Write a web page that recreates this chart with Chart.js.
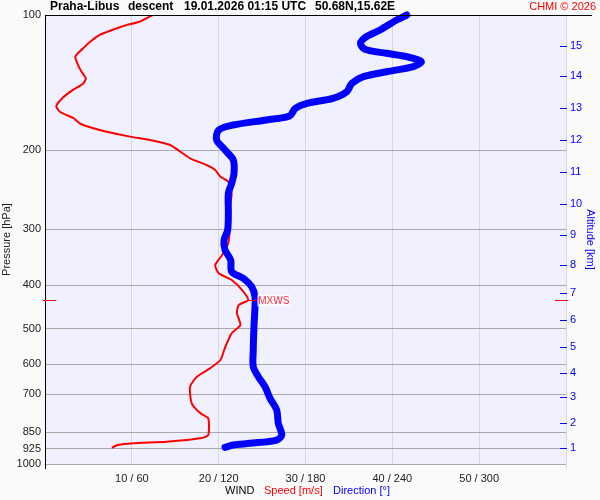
<!DOCTYPE html>
<html lang="en">
<head>
    <meta charset="UTF-8">
    <title>Praha-Libus descent - wind profile</title>
    <script src="https://cdn.jsdelivr.net/npm/chart.js@4"></script>
    <style>
        body { margin: 0; background: #fafafa; }
        #wrap { width: 600px; height: 500px; }
    </style>
</head>
<body>
<div id="wrap"><canvas id="windChart" width="600" height="500"></canvas></div>

<script>
    const FONT = '"Liberation Sans", Arial, sans-serif';

    // wind speed profile (m/s) vs pressure (hPa)
    const speedP = [100, 103.5, 105.3, 108.4, 110.8, 114.7, 118.6, 123.8, 129.2, 133.8, 138.4, 142.0, 147.4, 152.5, 159.5,
        164.2, 169.8, 174.3, 177.9, 182.0, 186.6, 189.8, 194.8, 201.6, 208.5, 215.8, 221.4, 229.2, 235.1, 249.5,
        267.3, 296.2, 322.5, 342.3, 360.4, 376.1, 389.2, 409.8, 431.3, 442.6, 461.7, 490.2, 511.6, 552.6, 586.7,
        612.3, 639.2, 672.7, 732.6, 771.2, 791.2, 861.9, 876.7, 892.0, 899.4, 907.3, 919.9];
    const speed = [12.4, 10.9, 9.4, 7.5, 6.3, 5.2, 4.4, 3.5, 3.8, 4.2, 4.7, 4.4, 3.1, 2.1, 1.3,
        1.7, 3.3, 4.0, 5.2, 7.1, 9.8, 12.1, 14.4, 15.6, 16.7, 18.6, 19.6, 20.2, 21.1, 21.5,
        21.3, 21.3, 21.1, 20.4, 19.6, 20.0, 21.5, 22.7, 23.4, 22.3, 22.1, 22.5, 21.5, 20.7, 20.2,
        19.0, 17.5, 16.7, 16.9, 17.9, 18.8, 18.8, 17.9, 14.0, 10.2, 8.4, 7.7];

    // wind direction profile (deg) vs pressure (hPa)
    const dirP = [100, 102.6, 108.0, 111.8, 115.6, 119.2, 121.7, 123.8, 127.0, 130.3, 133.8, 137.2, 142.0, 148.2, 153.3,
        157.3, 161.4, 167.9, 171.3, 175.8, 180.4, 189.8, 199.8, 210.3, 225.2, 237.1, 249.5, 276.5, 301.2, 317.1,
        333.7, 351.3, 373.0, 385.9, 402.9, 424.1, 446.5, 494.5, 557.5, 607.2, 639.2, 672.7, 714.0, 758.2, 811.8,
        861.9, 884.3, 899.4, 907.3, 918.0];
    const direction = [250, 243, 231.5, 222, 218, 221, 236, 250, 260, 254.5, 236, 220, 212, 208.5, 199,
        181, 173, 169, 153, 130, 120, 118.6, 124.4, 130.1, 130.6, 129, 126.7, 126.7, 126.2, 123.7,
        124.4, 128.3, 129, 137, 142.8, 145.1, 145.1, 144.4, 143.9, 143.9, 147.4, 152, 155.5, 160.1, 161.2,
        163.6, 160.1, 141.7, 130.1, 124.4];

    // axes
    const pressureTicks = [100, 200, 300, 400, 500, 600, 700, 850, 925, 1000];
    const speedTicks = [10, 20, 30, 40, 50, 60];
    const speedLabels = ['10 / 60', '20 / 120', '30 / 180', '40 / 240', '50 / 300', ''];
    const altKm = [1, 2, 3, 4, 5, 6, 7, 8, 9, 10, 11, 12, 13, 14, 15];
    const altP = [919, 812, 708, 626, 548, 478, 416, 360, 309, 264, 224, 190, 161, 137, 117];

    // max wind
    const mxwsP = 431.3;
    const mxwsSpeed = 23.4;

    const titleParts = [['Praha-Libus', 50], ['descent', 128], ['19.01.2026 01:15 UTC', 184], ['50.68N,15.62E', 315]];

    function hline(ctx, x1, x2, y) {
        ctx.beginPath(); ctx.moveTo(x1, y); ctx.lineTo(x2, y); ctx.stroke();
    }

    const decor = {
        id: 'decor',
        beforeDraw(chart) {
            const { ctx, chartArea: a } = chart;
            ctx.save();
            ctx.fillStyle = '#fafafa';
            ctx.fillRect(0, 0, chart.width, chart.height);
            ctx.fillStyle = '#f0f0ff';
            ctx.fillRect(a.left, a.top, a.right - a.left, a.bottom - a.top);
            ctx.restore();
        },
        afterDraw(chart) {
            const { ctx, chartArea: a, scales } = chart;
            ctx.save();
            ctx.textBaseline = 'middle';

            // header
            ctx.font = 'bold 12px ' + FONT;
            ctx.fillStyle = '#000';
            titleParts.forEach(([t, x]) => ctx.fillText(t, x, 7));
            ctx.font = '11px ' + FONT;
            ctx.fillStyle = '#ff0000';
            ctx.textAlign = 'right';
            ctx.fillText('CHMI \u00a9 2026', 596, 7);
            ctx.textAlign = 'left';

            ctx.strokeStyle = '#000';
            ctx.lineWidth = 1;
            hline(ctx, a.left, 592, a.top + 0.5);
            ctx.beginPath(); ctx.moveTo(a.left + 0.5, a.top); ctx.lineTo(a.left + 0.5, a.bottom + 5); ctx.stroke();

            // right edge tick below the plot
            ctx.strokeStyle = '#d8d8d8';
            ctx.beginPath(); ctx.moveTo(a.right + 0.5, a.bottom); ctx.lineTo(a.right + 0.5, a.bottom + 6); ctx.stroke();

            // altitude tick marks
            ctx.strokeStyle = '#0000ff';
            scales.y2.ticks.forEach(t => {
                const y = Math.round(scales.y2.getPixelForValue(t.value)) + 0.5;
                hline(ctx, a.right - 6, a.right + 1, y);
            });

            // max wind marker
            const my = Math.round(scales.y.getPixelForValue(mxwsP)) + 0.5;
            const mx = scales.x.getPixelForValue(mxwsSpeed);
            ctx.strokeStyle = '#ff0000';
            hline(ctx, a.left - 2, a.left + 11, my);
            hline(ctx, a.right - 11, a.right + 2, my);
            hline(ctx, mx, mx + 9, my);
            ctx.font = '10px ' + FONT;
            const w = ctx.measureText('MXWS').width;
            ctx.fillStyle = 'rgba(255,255,255,0.6)';
            ctx.fillRect(mx + 9, my - 6, w + 3, 12);
            ctx.fillStyle = '#ff3030';
            ctx.fillText('MXWS', mx + 10, my + 1);

            // bottom legend
            ctx.font = '11px ' + FONT;
            ctx.fillStyle = '#000';
            ctx.fillText('WIND', 225, 491);
            ctx.fillStyle = '#ff0000';
            ctx.fillText('Speed [m/s]', 264, 491);
            ctx.fillStyle = '#0000ff';
            ctx.fillText('Direction [\u00b0]', 333, 491);
            ctx.restore();
        }
    };

    const ctx = document.getElementById('windChart').getContext('2d');
    const windChart = new Chart(ctx, {
        type: 'scatter',
        data: {
            datasets: [{
                label: 'Direction',
                data: dirP.map((p, i) => ({ x: direction[i], y: p })),
                xAxisID: 'x2',
                yAxisID: 'y',
                showLine: true,
                tension: 0.3,
                borderColor: '#0000ff',
                borderWidth: 7,
                borderCapStyle: 'round',
                borderJoinStyle: 'round',
                pointRadius: 0,
                clip: false
            }, {
                label: 'Speed',
                data: speedP.map((p, i) => ({ x: speed[i], y: p })),
                xAxisID: 'x',
                yAxisID: 'y',
                showLine: true,
                tension: 0.2,
                borderColor: '#ff0000',
                borderWidth: 2,
                pointRadius: 0
            }]
        },
        options: {
            responsive: false,
            animation: false,
            layout: { padding: { top: 15 } },
            plugins: { legend: { display: false }, tooltip: { enabled: false } },
            scales: {
                x: {
                    type: 'linear', position: 'bottom', min: 0, max: 60,
                    afterBuildTicks: s => { s.ticks = speedTicks.map(v => ({ value: v })); },
                    afterFit: s => { s.height = 36; },
                    grid: { color: '#d8d8d8', drawTicks: false },
                    border: { display: false },
                    ticks: {
                        autoSkip: false, maxRotation: 0, padding: 8, color: '#222',
                        font: { family: FONT, size: 11 },
                        callback: (v, i) => speedLabels[i]
                    }
                },
                x2: { type: 'linear', min: 0, max: 360, display: false },
                y: {
                    type: 'logarithmic', position: 'left', reverse: true, min: 100, max: 1000,
                    afterBuildTicks: s => { s.ticks = pressureTicks.map(v => ({ value: v })); },
                    afterFit: s => { s.width = 45; },
                    grid: { color: '#a8a8a8', drawTicks: false },
                    border: { color: '#000' },
                    ticks: {
                        autoSkip: false, padding: 4, color: '#222',
                        font: { family: FONT, size: 11 },
                        callback: v => String(v)
                    },
                    title: { display: true, text: 'Pressure [hPa]', color: '#222', padding: 0, font: { family: FONT, size: 11 } }
                },
                y2: {
                    type: 'logarithmic', position: 'right', reverse: true, min: 100, max: 1000,
                    afterBuildTicks: s => { s.ticks = altP.map(v => ({ value: v })); },
                    afterFit: s => { s.width = 34; },
                    grid: { drawOnChartArea: false, drawTicks: false },
                    border: { color: '#d8d8d8' },
                    ticks: {
                        autoSkip: false, padding: 4, color: '#0000ff',
                        font: { family: FONT, size: 11 },
                        callback: (v, i) => String(altKm[i])
                    },
                    title: { display: true, text: 'Altitude [km]', color: '#0000ff', padding: 3, font: { family: FONT, size: 11 } }
                }
            }
        },
        plugins: [decor]
    });
</script>
</body>
</html>
